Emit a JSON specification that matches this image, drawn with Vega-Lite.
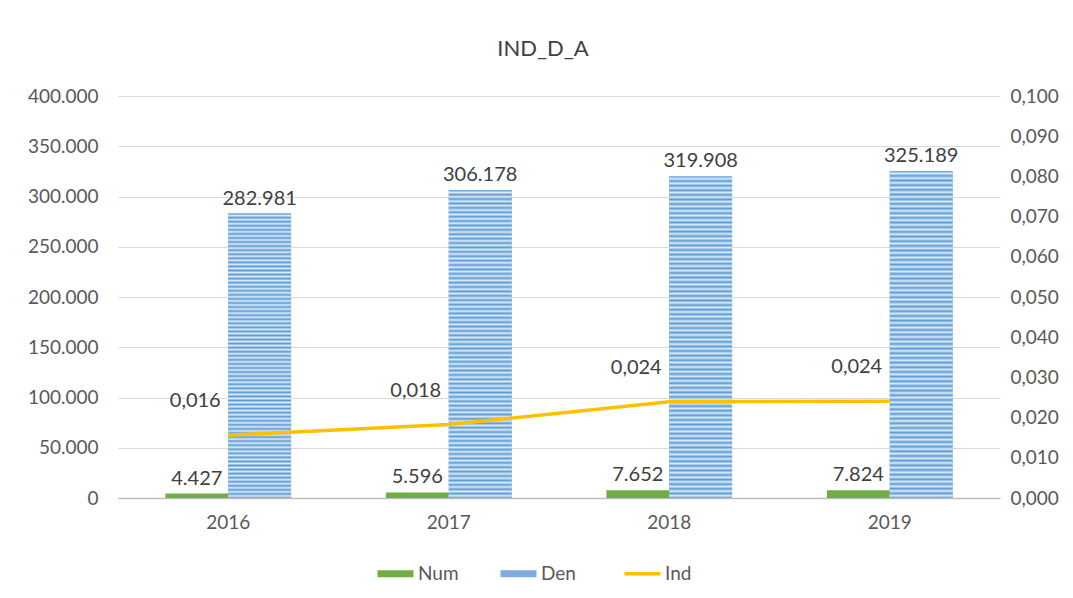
{
  "$schema": "https://vega.github.io/schema/vega-lite/v6.json",
  "autosize": "none",
  "width": 882,
  "height": 402,
  "padding": {"left": 118, "top": 96, "right": 73, "bottom": 100},
  "background": "white",
  "title": {"text": "IND_D_A", "fontSize": 22, "fontWeight": "normal", "color": "#404040", "font": "Lato", "offset": 26, "dx": -16},
  "config": {
    "locale": {"number": {"decimal": ",", "thousands": ".", "grouping": [3], "currency": ["", ""]}},
    "view": {"stroke": null},
    "font": "Lato"
  },
  "datasets": {
    "bars": [
      {"year": "2016", "series": "Num", "value": 4427},
      {"year": "2016", "series": "Den", "value": 282981},
      {"year": "2017", "series": "Num", "value": 5596},
      {"year": "2017", "series": "Den", "value": 306178},
      {"year": "2018", "series": "Num", "value": 7652},
      {"year": "2018", "series": "Den", "value": 319908},
      {"year": "2019", "series": "Num", "value": 7824},
      {"year": "2019", "series": "Den", "value": 325189}
    ],
    "ind": [
      {"year": "2016", "series": "Ind", "ind": 0.01564},
      {"year": "2017", "series": "Ind", "ind": 0.01828},
      {"year": "2018", "series": "Ind", "ind": 0.02392},
      {"year": "2019", "series": "Ind", "ind": 0.02406}
    ]
  },
  "encoding": {
    "x": {
      "field": "year", "type": "nominal",
      "scale": {"paddingInner": 0.43, "paddingOuter": 0.215},
      "axis": {"title": null, "labelAngle": 0, "labelFontSize": 19, "labelColor": "#595959", "ticks": false, "domainColor": "#BFBFBF", "domainWidth": 1.5, "labelPadding": 15}
    }
  },
  "layer": [
    {
      "data": {"name": "bars"},
      "layer": [
        {
          "mark": {"type": "bar"},
          "encoding": {
            "xOffset": {"field": "series", "type": "nominal", "sort": ["Num", "Den"], "scale": {"paddingInner": 0, "paddingOuter": 0}},
            "y": {
              "field": "value", "type": "quantitative",
              "scale": {"domain": [0, 400000]},
              "axis": {"title": null, "values": [0, 50000, 100000, 150000, 200000, 250000, 300000, 350000, 400000], "format": ",.0f", "labelFontSize": 19, "labelColor": "#595959", "gridColor": "#D9D9D9", "domain": false, "ticks": false, "labelPadding": 20}
            },
            "color": {
              "field": "series", "type": "nominal",
              "scale": {"domain": ["Num", "Den", "Ind"], "range": ["#70AD47", "#7EACDE", "#FFC000"]},
              "legend": {
                "title": null, "orient": "none", "legendX": 268, "legendY": 468, "direction": "horizontal",
                "labelFontSize": 19, "labelColor": "#595959", "symbolSize": 1296, "columnPadding": 41, "labelOffset": 13,
                "symbolType": "M-1,-0.2H1V0.2H-1Z",
                "encode": {
                  "symbols": {"update": {
                    "shape": {"signal": "datum.value === 'Ind' ? 'M-1,0H1' : 'M-1,-0.2H1V0.2H-1Z'"},
                    "strokeWidth": {"signal": "datum.value === 'Ind' ? 3.5 : 0"},
                    "stroke": {"signal": "datum.value === 'Ind' ? '#FFC000' : null"},
                    "fill": {"signal": "datum.value === 'Ind' ? null : (datum.value === 'Num' ? '#70AD47' : '#7EACDE')"},
                    "fillOpacity": {"value": 1}
                  }}
                }
              }
            }
          }
        },
        {
          "transform": [{"filter": "datum.series === 'Den'"}],
          "mark": {
            "type": "bar",
            "fill": {
              "gradient": "linear", "x1": 0, "y1": 0, "x2": 0, "y2": 1,
              "stops": [
                {"offset": 0, "color": "#5B9BD5"}, {"offset": 0.0071, "color": "#DDEBF7"}, {"offset": 0.0143, "color": "#5B9BD5"}, {"offset": 0.0214, "color": "#DDEBF7"}, {"offset": 0.0286, "color": "#5B9BD5"}, {"offset": 0.0357, "color": "#DDEBF7"}, {"offset": 0.0429, "color": "#5B9BD5"}, {"offset": 0.05, "color": "#DDEBF7"}, {"offset": 0.0571, "color": "#5B9BD5"}, {"offset": 0.0643, "color": "#DDEBF7"}, {"offset": 0.0714, "color": "#5B9BD5"}, {"offset": 0.0786, "color": "#DDEBF7"}, {"offset": 0.0857, "color": "#5B9BD5"}, {"offset": 0.0929, "color": "#DDEBF7"},
                {"offset": 0.1, "color": "#5B9BD5"}, {"offset": 0.1071, "color": "#DDEBF7"}, {"offset": 0.1143, "color": "#5B9BD5"}, {"offset": 0.1214, "color": "#DDEBF7"}, {"offset": 0.1286, "color": "#5B9BD5"}, {"offset": 0.1357, "color": "#DDEBF7"}, {"offset": 0.1429, "color": "#5B9BD5"}, {"offset": 0.15, "color": "#DDEBF7"}, {"offset": 0.1571, "color": "#5B9BD5"}, {"offset": 0.1643, "color": "#DDEBF7"}, {"offset": 0.1714, "color": "#5B9BD5"}, {"offset": 0.1786, "color": "#DDEBF7"}, {"offset": 0.1857, "color": "#5B9BD5"}, {"offset": 0.1929, "color": "#DDEBF7"},
                {"offset": 0.2, "color": "#5B9BD5"}, {"offset": 0.2071, "color": "#DDEBF7"}, {"offset": 0.2143, "color": "#5B9BD5"}, {"offset": 0.2214, "color": "#DDEBF7"}, {"offset": 0.2286, "color": "#5B9BD5"}, {"offset": 0.2357, "color": "#DDEBF7"}, {"offset": 0.2429, "color": "#5B9BD5"}, {"offset": 0.25, "color": "#DDEBF7"}, {"offset": 0.2571, "color": "#5B9BD5"}, {"offset": 0.2643, "color": "#DDEBF7"}, {"offset": 0.2714, "color": "#5B9BD5"}, {"offset": 0.2786, "color": "#DDEBF7"}, {"offset": 0.2857, "color": "#5B9BD5"}, {"offset": 0.2929, "color": "#DDEBF7"},
                {"offset": 0.3, "color": "#5B9BD5"}, {"offset": 0.3071, "color": "#DDEBF7"}, {"offset": 0.3143, "color": "#5B9BD5"}, {"offset": 0.3214, "color": "#DDEBF7"}, {"offset": 0.3286, "color": "#5B9BD5"}, {"offset": 0.3357, "color": "#DDEBF7"}, {"offset": 0.3429, "color": "#5B9BD5"}, {"offset": 0.35, "color": "#DDEBF7"}, {"offset": 0.3571, "color": "#5B9BD5"}, {"offset": 0.3643, "color": "#DDEBF7"}, {"offset": 0.3714, "color": "#5B9BD5"}, {"offset": 0.3786, "color": "#DDEBF7"}, {"offset": 0.3857, "color": "#5B9BD5"}, {"offset": 0.3929, "color": "#DDEBF7"},
                {"offset": 0.4, "color": "#5B9BD5"}, {"offset": 0.4071, "color": "#DDEBF7"}, {"offset": 0.4143, "color": "#5B9BD5"}, {"offset": 0.4214, "color": "#DDEBF7"}, {"offset": 0.4286, "color": "#5B9BD5"}, {"offset": 0.4357, "color": "#DDEBF7"}, {"offset": 0.4429, "color": "#5B9BD5"}, {"offset": 0.45, "color": "#DDEBF7"}, {"offset": 0.4571, "color": "#5B9BD5"}, {"offset": 0.4643, "color": "#DDEBF7"}, {"offset": 0.4714, "color": "#5B9BD5"}, {"offset": 0.4786, "color": "#DDEBF7"}, {"offset": 0.4857, "color": "#5B9BD5"}, {"offset": 0.4929, "color": "#DDEBF7"},
                {"offset": 0.5, "color": "#5B9BD5"}, {"offset": 0.5071, "color": "#DDEBF7"}, {"offset": 0.5143, "color": "#5B9BD5"}, {"offset": 0.5214, "color": "#DDEBF7"}, {"offset": 0.5286, "color": "#5B9BD5"}, {"offset": 0.5357, "color": "#DDEBF7"}, {"offset": 0.5429, "color": "#5B9BD5"}, {"offset": 0.55, "color": "#DDEBF7"}, {"offset": 0.5571, "color": "#5B9BD5"}, {"offset": 0.5643, "color": "#DDEBF7"}, {"offset": 0.5714, "color": "#5B9BD5"}, {"offset": 0.5786, "color": "#DDEBF7"}, {"offset": 0.5857, "color": "#5B9BD5"}, {"offset": 0.5929, "color": "#DDEBF7"},
                {"offset": 0.6, "color": "#5B9BD5"}, {"offset": 0.6071, "color": "#DDEBF7"}, {"offset": 0.6143, "color": "#5B9BD5"}, {"offset": 0.6214, "color": "#DDEBF7"}, {"offset": 0.6286, "color": "#5B9BD5"}, {"offset": 0.6357, "color": "#DDEBF7"}, {"offset": 0.6429, "color": "#5B9BD5"}, {"offset": 0.65, "color": "#DDEBF7"}, {"offset": 0.6571, "color": "#5B9BD5"}, {"offset": 0.6643, "color": "#DDEBF7"}, {"offset": 0.6714, "color": "#5B9BD5"}, {"offset": 0.6786, "color": "#DDEBF7"}, {"offset": 0.6857, "color": "#5B9BD5"}, {"offset": 0.6929, "color": "#DDEBF7"},
                {"offset": 0.7, "color": "#5B9BD5"}, {"offset": 0.7071, "color": "#DDEBF7"}, {"offset": 0.7143, "color": "#5B9BD5"}, {"offset": 0.7214, "color": "#DDEBF7"}, {"offset": 0.7286, "color": "#5B9BD5"}, {"offset": 0.7357, "color": "#DDEBF7"}, {"offset": 0.7429, "color": "#5B9BD5"}, {"offset": 0.75, "color": "#DDEBF7"}, {"offset": 0.7571, "color": "#5B9BD5"}, {"offset": 0.7643, "color": "#DDEBF7"}, {"offset": 0.7714, "color": "#5B9BD5"}, {"offset": 0.7786, "color": "#DDEBF7"}, {"offset": 0.7857, "color": "#5B9BD5"}, {"offset": 0.7929, "color": "#DDEBF7"},
                {"offset": 0.8, "color": "#5B9BD5"}, {"offset": 0.8071, "color": "#DDEBF7"}, {"offset": 0.8143, "color": "#5B9BD5"}, {"offset": 0.8214, "color": "#DDEBF7"}, {"offset": 0.8286, "color": "#5B9BD5"}, {"offset": 0.8357, "color": "#DDEBF7"}, {"offset": 0.8429, "color": "#5B9BD5"}, {"offset": 0.85, "color": "#DDEBF7"}, {"offset": 0.8571, "color": "#5B9BD5"}, {"offset": 0.8643, "color": "#DDEBF7"}, {"offset": 0.8714, "color": "#5B9BD5"}, {"offset": 0.8786, "color": "#DDEBF7"}, {"offset": 0.8857, "color": "#5B9BD5"}, {"offset": 0.8929, "color": "#DDEBF7"},
                {"offset": 0.9, "color": "#5B9BD5"}, {"offset": 0.9071, "color": "#DDEBF7"}, {"offset": 0.9143, "color": "#5B9BD5"}, {"offset": 0.9214, "color": "#DDEBF7"}, {"offset": 0.9286, "color": "#5B9BD5"}, {"offset": 0.9357, "color": "#DDEBF7"}, {"offset": 0.9429, "color": "#5B9BD5"}, {"offset": 0.95, "color": "#DDEBF7"}, {"offset": 0.9571, "color": "#5B9BD5"}, {"offset": 0.9643, "color": "#DDEBF7"}, {"offset": 0.9714, "color": "#5B9BD5"}, {"offset": 0.9786, "color": "#DDEBF7"}, {"offset": 0.9857, "color": "#5B9BD5"}, {"offset": 0.9929, "color": "#DDEBF7"},
                {"offset": 1, "color": "#5B9BD5"}
              ]
            }
          },
          "encoding": {
            "xOffset": {"field": "series", "type": "nominal", "sort": ["Num", "Den"], "scale": {"paddingInner": 0, "paddingOuter": 0}},
            "y": {"field": "value", "type": "quantitative", "scale": {"domain": [0, 400000]}}
          }
        },
        {
          "mark": {"type": "text", "baseline": "bottom", "dy": -5, "fontSize": 20, "color": "#404040"},
          "encoding": {
            "xOffset": {"field": "series", "type": "nominal", "sort": ["Num", "Den"], "scale": {"paddingInner": 0, "paddingOuter": 0}},
            "y": {"field": "value", "type": "quantitative", "scale": {"domain": [0, 400000]}},
            "text": {"field": "value", "type": "quantitative", "format": ",.0f"}
          }
        }
      ]
    },
    {
      "data": {"name": "ind"},
      "layer": [
        {
          "mark": {"type": "line", "strokeWidth": 3.5, "color": "#FFC000"},
          "encoding": {
            "y": {
              "field": "ind", "type": "quantitative",
              "scale": {"domain": [0, 0.1]},
              "axis": {"title": null, "orient": "right", "values": [0, 0.01, 0.02, 0.03, 0.04, 0.05, 0.06, 0.07, 0.08, 0.09, 0.1], "format": ".3f", "labelFontSize": 19, "labelColor": "#595959", "grid": false, "domain": false, "ticks": false, "labelPadding": 10}
            }
          }
        },
        {
          "mark": {"type": "text", "dx": -33, "dy": -34, "fontSize": 20, "color": "#404040"},
          "encoding": {
            "y": {"field": "ind", "type": "quantitative", "scale": {"domain": [0, 0.1]}},
            "text": {"field": "ind", "type": "quantitative", "format": ".3f"}
          }
        }
      ]
    }
  ],
  "resolve": {"scale": {"y": "independent"}}
}
